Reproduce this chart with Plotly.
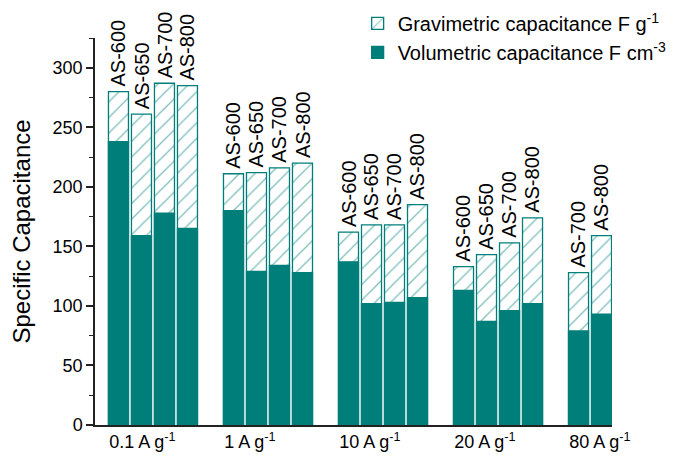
import plotly.graph_objects as go

groups = ["0.1 A g<sup>-1</sup>", "1 A g<sup>-1</sup>", "10 A g<sup>-1</sup>", "20 A g<sup>-1</sup>", "80 A g<sup>-1</sup>"]
samples = [
    ["AS-600", "AS-650", "AS-700", "AS-800"],
    ["AS-600", "AS-650", "AS-700", "AS-800"],
    ["AS-600", "AS-650", "AS-700", "AS-800"],
    ["AS-600", "AS-650", "AS-700", "AS-800"],
    ["AS-700", "AS-800"],
]
gravimetric = [
    [280, 261, 287, 285],
    [211, 212, 216, 220],
    [162, 168, 168, 185],
    [133, 143, 153, 174],
    [128, 159],
]
volumetric = [
    [238, 159, 178, 165],
    [180, 129, 134, 128],
    [137, 102, 103, 107],
    [113, 87, 96, 102],
    [79, 93],
]

TEAL = "#007F7A"
STEP = 0.2
WIDTH = 0.174
FONT = "Liberation Sans, Arial"

xs, labels, gv, vv, tickpos = [], [], [], [], []
for gi, (smp, g, v) in enumerate(zip(samples, gravimetric, volumetric)):
    pos = [gi + (si - 1.5) * STEP for si in range(len(smp))]
    xs += pos
    labels += smp
    gv += g
    vv += v
    tickpos.append(pos[0] - WIDTH / 2)

fig = go.Figure()
fig.add_trace(go.Bar(
    x=xs, y=gv, width=WIDTH, name="Gravimetric capacitance F g<sup>-1</sup>",
    marker=dict(color="white", line=dict(color=TEAL, width=1.3),
                pattern=dict(shape="/", fgcolor=TEAL, bgcolor="white", size=11, solidity=0.12)),
))
fig.add_trace(go.Bar(
    x=xs, y=vv, width=WIDTH, name="Volumetric capacitance F cm<sup>-3</sup>",
    marker=dict(color=TEAL, line=dict(color=TEAL, width=1.3)),
))

for x, y, t in zip(xs, gv, labels):
    fig.add_annotation(x=x, y=y, text=t, textangle=-90, showarrow=False,
                       xanchor="center", yanchor="bottom", yshift=3,
                       font=dict(size=20, color="black", family=FONT))

fig.update_layout(
    width=667, height=459,
    barmode="overlay",
    plot_bgcolor="white", paper_bgcolor="white",
    margin=dict(l=87, r=63, t=30, b=42, autoexpand=False),
    font=dict(family=FONT, size=18, color="black"),
    showlegend=True,
    legend=dict(x=0.508, y=1.088, xanchor="left", yanchor="top",
                bgcolor="rgba(0,0,0,0)", font=dict(size=20), tracegroupgap=0,
                itemwidth=30),
)
fig.update_xaxes(
    range=[-0.504, 3.991], tickmode="array", tickvals=tickpos, ticktext=groups,
    ticklabelposition="outside right",
    showline=True, linecolor="#222", linewidth=1.5, ticks="", showgrid=False,
    zeroline=False, tickfont=dict(size=18), automargin=False,
)
fig.update_yaxes(
    range=[0, 325], tickmode="array", tickvals=[0, 50, 100, 150, 200, 250, 300],
    showline=True, linecolor="#222", linewidth=1.5, ticks="outside", ticklen=7,
    tickwidth=1.5, tickcolor="#222", showgrid=False, zeroline=False,
    minor=dict(ticks="outside", ticklen=4, tickwidth=1.2, dtick=25, tick0=0, tickcolor="#222"),
    title=dict(text="Specific Capacitance", font=dict(size=24), standoff=28),
    tickfont=dict(size=18), automargin=False,
)

fig.write_html("out.html")
